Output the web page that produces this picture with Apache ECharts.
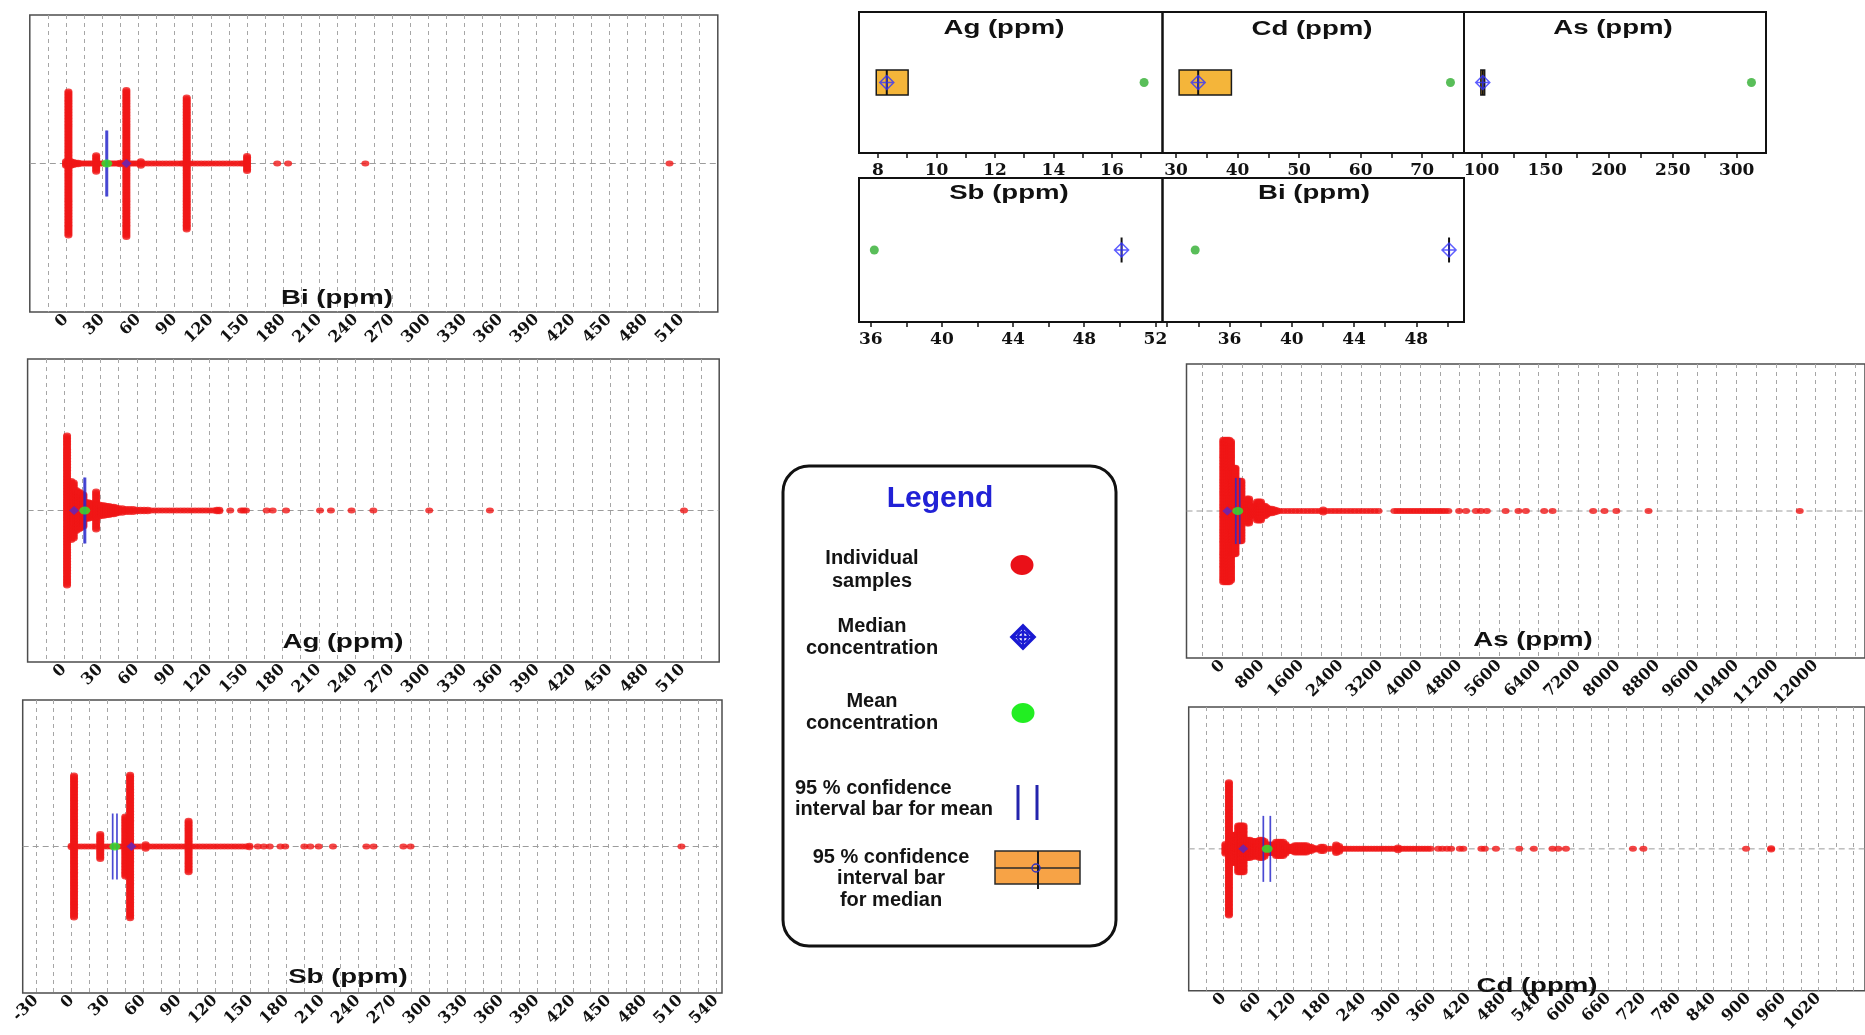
<!DOCTYPE html>
<html>
<head>
<meta charset="utf-8">
<script src="https://cdn.jsdelivr.net/npm/echarts@6/dist/echarts.min.js"></script>
<style>
  html, body { margin: 0; padding: 0; background: #fff; }
  #chart { width: 1865px; height: 1035px; }
</style>
</head>
<body>
<div id="chart"></div>
<script>
// ---- summary statistics per element (ppm) ----
const elements      = ['Ag', 'Cd', 'As', 'Sb', 'Bi'];
const meanValues    = [17.1, 74.6, 311.6, 36.2, 33.8];
const medianValues  = [8.3, 33.6, 101, 50.1, 50.1];
const medianCiLow   = [7.94, 30.5, 99.5, 50.1, 50.1];
const medianCiHigh  = [9.03, 39.0, 102.5, 50.1, 50.1];
const meanCiLow     = [16.6, 68, 272, 34.4, 33.2];
const meanCiHigh    = [17.7, 80, 352, 38.0, 34.3];

// ---- individual samples: value (ppm) and number of samples at that value ----
const biValues = [0, 2, 4, 6, 8, 10, 12, 14, 16, 18,
  20, 22, 25, 27, 29, 31, 35, 37, 39, 41,
  43, 45, 47, 50, 53, 55, 57, 59, 62, 65,
  68, 71, 74, 77, 80, 83, 86, 89, 92, 95,
  97, 100, 103, 106, 109, 112, 115, 118, 121, 124,
  127, 130, 133, 136, 139, 142, 145, 147, 150, 175,
  184, 248, 500];
const biCounts = [4, 98, 4, 3, 2, 2, 1, 1, 1, 1,
  1, 1, 12, 1, 1, 1, 1, 1, 1, 1,
  1, 2, 1, 100, 1, 1, 1, 1, 4, 1,
  1, 1, 1, 1, 1, 1, 1, 1, 1, 1,
  1, 90, 1, 1, 1, 1, 1, 1, 1, 1,
  1, 1, 1, 1, 1, 1, 1, 1, 11, 1,
  1, 1, 1];

const agValues = [2.5, 6, 8, 10, 12, 14, 16, 18, 20, 22,
  24, 26.5, 29, 31, 33, 35, 37, 39, 41, 43,
  45, 48, 51, 54, 57, 60, 63, 66, 69, 72,
  75, 78, 81, 84, 87, 90, 93, 96, 99, 102,
  105, 108, 111, 114, 117, 120, 123, 126, 128, 137,
  146, 148, 150, 167, 172, 183, 211, 220, 237, 255,
  301, 351, 511];
const agCounts = [100, 40, 38, 28, 26, 24, 22, 12, 12, 11,
  10, 26, 9, 8, 8, 7, 7, 6, 6, 5,
  4, 4, 3, 3, 3, 2, 2, 2, 2, 1,
  1, 1, 1, 1, 1, 1, 1, 1, 1, 1,
  1, 1, 1, 1, 1, 1, 1, 2, 2, 1,
  1, 1, 1, 1, 1, 1, 1, 1, 1, 1,
  1, 1, 1];

const sbValues = [0, 2, 5, 8, 11, 14, 17, 20, 24, 27,
  30, 33, 36, 39, 42, 45, 49, 52, 55, 58,
  62, 65, 68, 71, 74, 77, 80, 83, 86, 89,
  92, 95, 98, 101, 104, 107, 110, 113, 116, 119,
  122, 125, 128, 131, 134, 137, 140, 143, 146, 149,
  156, 161, 166, 175, 179, 195, 200, 207, 219, 247,
  253, 278, 284, 511];
const sbCounts = [2, 98, 1, 1, 1, 1, 1, 1, 18, 1,
  1, 1, 1, 1, 1, 42, 99, 1, 1, 1,
  4, 1, 1, 1, 1, 1, 1, 1, 1, 1,
  1, 1, 36, 1, 1, 1, 1, 1, 1, 1,
  1, 1, 1, 1, 1, 1, 1, 1, 1, 2,
  1, 1, 1, 1, 1, 1, 1, 1, 1, 1,
  1, 1, 1, 1];

const asValues = [20, 60, 100, 140, 175, 205, 235, 265, 295, 325,
  355, 385, 420, 460, 500, 540, 580, 620, 660, 700,
  740, 780, 820, 860, 900, 950, 1000, 1050, 1100, 1160,
  1240, 1320, 1400, 1480, 1560, 1640, 1720, 1800, 1880, 1960,
  2040, 2120, 2200, 2280, 2360, 2440, 2520, 2600, 2680, 2760,
  2840, 2920, 3000, 3080, 3160, 3480, 3540, 3600, 3660, 3720,
  3780, 3840, 3900, 3960, 4020, 4080, 4140, 4200, 4260, 4320,
  4380, 4440, 4500, 4570, 4790, 4930, 5130, 5230, 5350, 5730,
  5990, 6140, 6510, 6680, 7500, 7730, 7970, 8620, 11680];
const asCounts = [98, 98, 98, 98, 96, 60, 60, 60, 42, 42,
  42, 42, 10, 12, 18, 18, 8, 6, 6, 14,
  14, 14, 8, 8, 6, 4, 4, 3, 2, 1,
  1, 1, 1, 1, 1, 1, 1, 1, 1, 1,
  3, 1, 1, 1, 1, 1, 1, 1, 1, 1,
  1, 1, 1, 1, 1, 1, 1, 1, 1, 1,
  1, 1, 1, 1, 1, 1, 1, 1, 1, 1,
  1, 1, 1, 1, 1, 1, 1, 1, 1, 1,
  1, 1, 1, 1, 1, 1, 1, 1, 1];

const cdValues = [3, 9, 14, 18, 22, 25, 28, 31, 34, 37,
  41, 45, 49, 53, 57, 62, 66, 70, 74, 78,
  82, 86, 90, 94, 98, 102, 106, 110, 114, 118,
  122, 126, 130, 134, 138, 142, 146, 150, 154, 158,
  162, 167, 171, 179, 184, 193, 198, 203, 208, 213,
  218, 223, 228, 233, 238, 243, 248, 253, 258, 263,
  268, 273, 278, 283, 288, 293, 299, 305, 310, 315,
  320, 325, 330, 335, 340, 345, 350, 355, 368, 375,
  383, 390, 405, 411, 442, 448, 467, 507, 532, 564,
  574, 587, 702, 720, 896, 939];
const cdCounts = [8, 95, 21, 21, 21, 34, 34, 34, 34, 14,
  14, 14, 12, 12, 12, 14, 14, 12, 7, 7,
  7, 7, 11, 11, 11, 11, 8, 4, 4, 4,
  6, 6, 6, 6, 6, 6, 4, 4, 2, 2,
  1, 4, 4, 1, 1, 7, 5, 1, 1, 1,
  1, 1, 1, 1, 1, 1, 1, 1, 1, 1,
  1, 1, 1, 1, 1, 1, 3, 1, 1, 1,
  1, 1, 1, 1, 1, 1, 1, 1, 1, 1,
  1, 1, 1, 1, 1, 1, 1, 1, 1, 1,
  1, 1, 1, 1, 1, 2];

// ---- tick helpers ----
function steps(from, to, step) {
  const out = [];
  for (let v = from; v <= to + 1e-9; v += step) out.push(+v.toFixed(6));
  return out;
}

// samples sharing a value are stacked symmetrically about the centre line
function stackPoints(values, counts) {
  const pts = [];
  values.forEach((v, i) => {
    const n = counts[i];
    for (let k = 0; k < n; k++) pts.push([v, k - (n - 1) / 2]);
  });
  return pts;
}

const SANS = '"Liberation Sans", Arial, sans-serif';
const SERIF = '"DejaVu Serif", "Liberation Serif", serif';

// ---- strip-plot panels ----
const stripPanels = [
  { title: 'Bi (ppm)', el: 'Bi', values: biValues, counts: biCounts,
    box: [29.8, 15, 688, 297], min: -30, max: 540,
    ticks: steps(-15, 525, 15), labels: steps(0, 510, 30), titlePos: [337, 298] },
  { title: 'Ag (ppm)', el: 'Ag', values: agValues, counts: agCounts,
    box: [27.6, 359, 691.6, 303], min: -30, max: 540,
    ticks: steps(-15, 525, 15), labels: steps(0, 510, 30), titlePos: [343, 642] },
  { title: 'Sb (ppm)', el: 'Sb', values: sbValues, counts: sbCounts,
    box: [22.7, 700, 699.3, 293], min: -41, max: 545,
    ticks: steps(-30, 540, 15), labels: steps(-30, 540, 30), titlePos: [348, 977] },
  { title: 'As (ppm)', el: 'As', values: asValues, counts: asCounts,
    box: [1186.5, 364, 696.5, 294], min: -725, max: 13000,
    ticks: steps(-400, 12800, 400), labels: steps(0, 12000, 800), titlePos: [1533, 640] },
  { title: 'Cd (ppm)', el: 'Cd', values: cdValues, counts: cdCounts,
    box: [1188.7, 707, 696, 291], min: -60, max: 1100,
    ticks: steps(-30, 1080, 30), labels: steps(0, 1020, 60), titlePos: [1537, 986] }
];

// ---- summary panels (mean, median and its 95 % interval) ----
const summaryPanels = [
  { title: 'Ag (ppm)', el: 'Ag', box: [859, 12, 303.5, 141], min: 7.35, max: 17.73,
    ticks: steps(8, 17, 1), labels: steps(8, 16, 2), titlePos: [1004, 28] },
  { title: 'Cd (ppm)', el: 'Cd', box: [1162.5, 12, 301.5, 141], min: 27.8, max: 76.8,
    ticks: steps(30, 75, 5), labels: steps(30, 70, 10), titlePos: [1312, 29] },
  { title: 'As (ppm)', el: 'As', box: [1464, 12, 302, 141], min: 86.3, max: 323,
    ticks: steps(100, 300, 25), labels: steps(100, 300, 50), titlePos: [1613, 28] },
  { title: 'Sb (ppm)', el: 'Sb', box: [859, 178, 303.5, 144], min: 35.34, max: 52.4,
    ticks: steps(36, 52, 2), labels: steps(36, 52, 4), titlePos: [1009, 193] },
  { title: 'Bi (ppm)', el: 'Bi', box: [1162.5, 178, 301.5, 144], min: 31.7, max: 51.06,
    ticks: steps(32, 50, 2), labels: steps(36, 48, 4), titlePos: [1314, 193] }
];

const grids = [], xAxes = [], yAxes = [], series = [], graphics = [];
const plainNumber = v => String(v);

stripPanels.forEach((p, i) => {
  const s = elements.indexOf(p.el);
  grids.push({ left: p.box[0], top: p.box[1], width: p.box[2], height: p.box[3],
    show: true, borderColor: '#4d4d4d', borderWidth: 1.5, backgroundColor: 'transparent' });
  xAxes.push({ type: 'value', gridIndex: i, min: p.min, max: p.max, position: 'bottom',
    axisLine: { show: false, onZero: false },
    axisTick: { show: false, customValues: p.ticks },
    axisLabel: { customValues: p.labels, rotate: 45, margin: 5, formatter: plainNumber,
      fontFamily: SERIF, fontWeight: 'bold', fontSize: 16, color: '#111' },
    splitLine: { show: true, lineStyle: { color: '#a6a6a6', width: 1, type: [4, 4] } } });
  yAxes.push({ type: 'value', gridIndex: i, min: -100, max: 100, show: false });

  series.push({ type: 'line', xAxisIndex: i, yAxisIndex: i, silent: true, z: 1,
    data: [[p.min, 0], [p.max, 0]], symbol: 'none',
    lineStyle: { color: '#9c9c9c', width: 1, type: [6, 4] } });
  series.push({ type: 'scatter', xAxisIndex: i, yAxisIndex: i, silent: true, z: 2,
    data: stackPoints(p.values, p.counts), symbol: 'circle', symbolSize: [8, 6],
    itemStyle: { color: '#f01616' } });
  series.push({ type: 'custom', xAxisIndex: i, yAxisIndex: i, silent: true, z: 3,
    data: [[meanCiLow[s], meanCiHigh[s]]],
    renderItem: (params, api) => {
      const a = api.coord([api.value(0), 0]);
      const b = api.coord([api.value(1), 0]);
      const st = { stroke: '#2a2acb', lineWidth: 1.7, opacity: 0.85 };
      return { type: 'group', children: [
        { type: 'line', shape: { x1: a[0], y1: a[1] - 33, x2: a[0], y2: a[1] + 33 }, style: st },
        { type: 'line', shape: { x1: b[0], y1: b[1] - 33, x2: b[0], y2: b[1] + 33 }, style: st }
      ] };
    } });
  series.push({ type: 'scatter', xAxisIndex: i, yAxisIndex: i, silent: true, z: 4,
    data: [[meanValues[s], 0]], symbolSize: [11, 8], itemStyle: { color: '#2cea2c' } });
  series.push({ type: 'scatter', xAxisIndex: i, yAxisIndex: i, silent: true, z: 5,
    data: [[medianValues[s], 0]], symbol: 'diamond', symbolSize: [10, 9],
    itemStyle: { color: '#5a26c6' } });

  graphics.push({ type: 'text', x: p.titlePos[0], y: p.titlePos[1], scaleX: 1.38, z: 50,
    style: { text: p.title, font: 'bold 20px ' + SANS, fill: '#111', align: 'center', verticalAlign: 'middle' } });
});

summaryPanels.forEach((p, j) => {
  const i = stripPanels.length + j;
  const s = elements.indexOf(p.el);
  grids.push({ left: p.box[0], top: p.box[1], width: p.box[2], height: p.box[3],
    show: true, borderColor: '#111', borderWidth: 2, backgroundColor: 'transparent' });
  xAxes.push({ type: 'value', gridIndex: i, min: p.min, max: p.max, position: 'bottom',
    axisLine: { show: false, onZero: false },
    axisTick: { show: true, customValues: p.ticks, length: 5, lineStyle: { color: '#111', width: 1.5 } },
    axisLabel: { customValues: p.labels, margin: 9, formatter: plainNumber,
      fontFamily: SERIF, fontWeight: 'bold', fontSize: 17, color: '#111' },
    splitLine: { show: false } });
  yAxes.push({ type: 'value', gridIndex: i, min: -1, max: 1, show: false });

  series.push({ type: 'custom', xAxisIndex: i, yAxisIndex: i, silent: true, z: 2,
    data: [[medianCiLow[s], medianCiHigh[s], medianValues[s]]],
    renderItem: (params, api) => {
      const lo = api.coord([api.value(0), 0]);
      const hi = api.coord([api.value(1), 0]);
      const md = api.coord([api.value(2), 0]);
      const hh = 12.5;
      const kids = [];
      if (hi[0] - lo[0] > 1) {
        kids.push({ type: 'rect', shape: { x: lo[0], y: lo[1] - hh, width: hi[0] - lo[0], height: 2 * hh },
          style: { fill: '#f4b53a', stroke: '#1a1a1a', lineWidth: 1.5 } });
      }
      kids.push({ type: 'line', shape: { x1: md[0], y1: md[1] - hh, x2: md[0], y2: md[1] + hh },
        style: { stroke: '#111', lineWidth: 2 } });
      return { type: 'group', children: kids };
    } });
  series.push({ type: 'scatter', xAxisIndex: i, yAxisIndex: i, silent: true, z: 3,
    data: [[meanValues[s], 0]], symbolSize: 9, itemStyle: { color: '#2fae2f' } });
  series.push({ type: 'scatter', xAxisIndex: i, yAxisIndex: i, silent: true, z: 4,
    data: [[medianValues[s], 0]],
    symbol: 'path://M0,-10L10,0L0,10L-10,0Z M-10,0L10,0 M0,-10L0,10', symbolSize: 14,
    itemStyle: { color: 'rgba(0,0,0,0)', borderColor: '#3434ff', borderWidth: 1.5 } });

  graphics.push({ type: 'text', x: p.titlePos[0], y: p.titlePos[1], scaleX: 1.38, z: 50,
    style: { text: p.title, font: 'bold 20px ' + SANS, fill: '#111', align: 'center', verticalAlign: 'middle' } });
});

// ---- legend box ----
const legendFont = 'bold 20px ' + SANS;
graphics.push(
  { type: 'rect', z: 60, shape: { x: 783, y: 466, width: 333, height: 480, r: 26 },
    style: { fill: '#fff', stroke: '#111', lineWidth: 3 } },
  { type: 'text', z: 61, x: 940, y: 499,
    style: { text: 'Legend', font: 'bold 30px ' + SANS, fill: '#2121d6', align: 'center', verticalAlign: 'middle' } },
  { type: 'text', z: 61, x: 872, y: 569.5,
    style: { text: 'Individual\nsamples', font: legendFont, lineHeight: 23, fill: '#141414', align: 'center', verticalAlign: 'middle' } },
  { type: 'ellipse', z: 61, shape: { cx: 1022, cy: 565, rx: 11.5, ry: 10 }, style: { fill: '#ea1018' } },
  { type: 'text', z: 61, x: 872, y: 637,
    style: { text: 'Median\nconcentration', font: legendFont, lineHeight: 22, fill: '#141414', align: 'center', verticalAlign: 'middle' } },
  { type: 'group', z: 61, x: 1023, y: 637, children: [
    { type: 'polygon', z: 61, shape: { points: [[0, -11], [11, 0], [0, 11], [-11, 0]] },
      style: { fill: 'none', stroke: '#1a1ad2', lineWidth: 3.5 } },
    { type: 'circle', z: 61, shape: { cx: 0, cy: 0, r: 5 }, style: { fill: 'none', stroke: '#1a1ad2', lineWidth: 2.5 } },
    { type: 'line', z: 61, shape: { x1: -11, y1: 0, x2: 11, y2: 0 }, style: { stroke: '#1a1ad2', lineWidth: 2.5 } },
    { type: 'line', z: 61, shape: { x1: 0, y1: -11, x2: 0, y2: 11 }, style: { stroke: '#1a1ad2', lineWidth: 2.5 } }
  ] },
  { type: 'text', z: 61, x: 872, y: 712.5,
    style: { text: 'Mean\nconcentration', font: legendFont, lineHeight: 22, fill: '#141414', align: 'center', verticalAlign: 'middle' } },
  { type: 'ellipse', z: 61, shape: { cx: 1023, cy: 713, rx: 11.5, ry: 10 }, style: { fill: '#22ee22' } },
  { type: 'text', z: 61, x: 795, y: 798.5,
    style: { text: '95 % confidence\ninterval bar for mean', font: legendFont, lineHeight: 21, fill: '#141414', align: 'left', verticalAlign: 'middle' } },
  { type: 'line', z: 61, shape: { x1: 1018, y1: 785, x2: 1018, y2: 820 }, style: { stroke: '#2424ad', lineWidth: 3 } },
  { type: 'line', z: 61, shape: { x1: 1037, y1: 785, x2: 1037, y2: 820 }, style: { stroke: '#2424ad', lineWidth: 3 } },
  { type: 'text', z: 61, x: 891, y: 878.5,
    style: { text: '95 % confidence\ninterval bar\nfor median', font: legendFont, lineHeight: 21.5, fill: '#141414', align: 'center', verticalAlign: 'middle' } },
  { type: 'rect', z: 61, shape: { x: 995, y: 851, width: 85, height: 33 },
    style: { fill: '#f7a346', stroke: '#2a2a2a', lineWidth: 1.5 } },
  { type: 'line', z: 62, shape: { x1: 995, y1: 868, x2: 1080, y2: 868 }, style: { stroke: '#2a2a2a', lineWidth: 1.5 } },
  { type: 'line', z: 62, shape: { x1: 1038, y1: 851, x2: 1038, y2: 889 }, style: { stroke: '#1a1a1a', lineWidth: 2 } },
  { type: 'circle', z: 62, shape: { cx: 1036, cy: 868, r: 4 }, style: { fill: 'none', stroke: '#3030c0', lineWidth: 1.5 } }
);

const chart = echarts.init(document.getElementById('chart'), null, { renderer: 'canvas' });
chart.setOption({
  animation: false,
  backgroundColor: '#ffffff',
  grid: grids,
  xAxis: xAxes,
  yAxis: yAxes,
  series: series,
  graphic: graphics
});
</script>
</body>
</html>
